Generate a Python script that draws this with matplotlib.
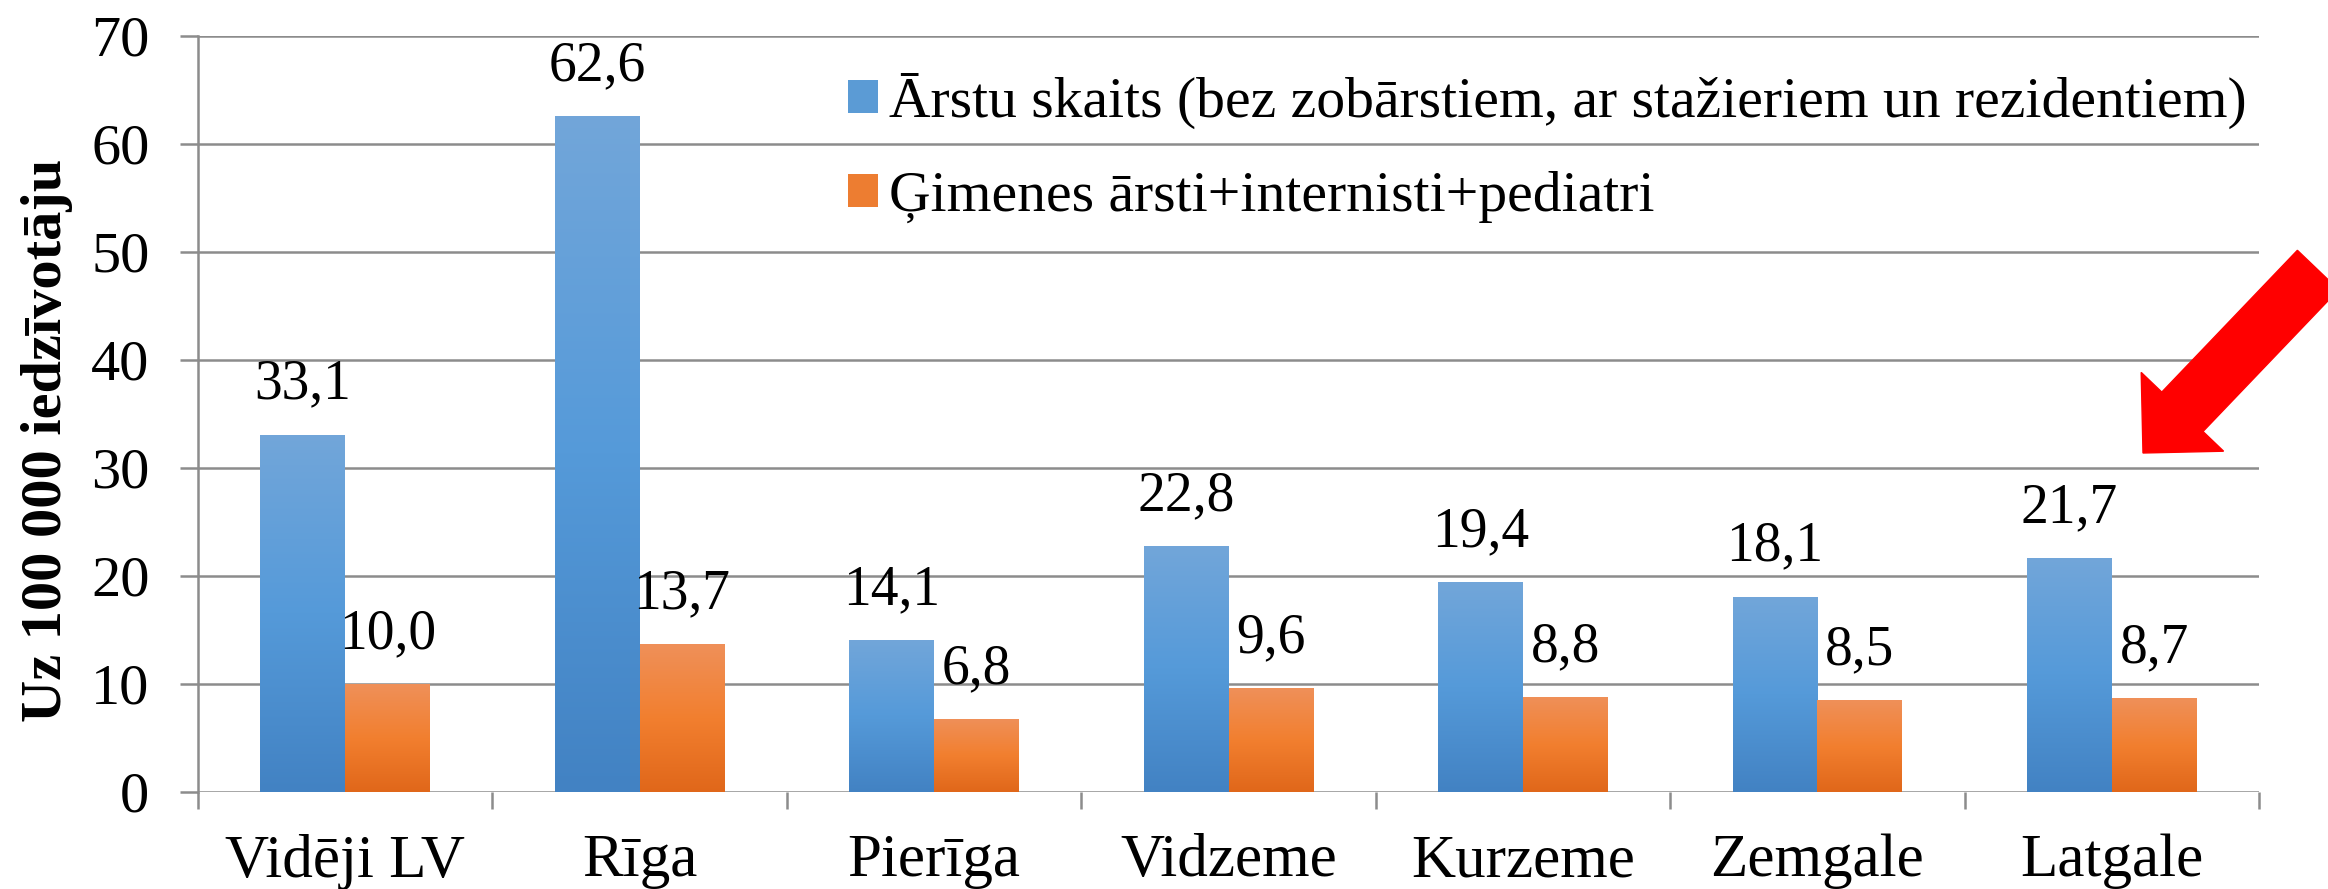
import numpy as np
import matplotlib
matplotlib.use('Agg')
import matplotlib.pyplot as plt
from matplotlib.colors import LinearSegmentedColormap
from matplotlib.patches import FancyArrow, Patch

regions = ['Vidēji LV', 'Rīga', 'Pierīga', 'Vidzeme', 'Kurzeme', 'Zemgale', 'Latgale']
doctors = [33.1, 62.6, 14.1, 22.8, 19.4, 18.1, 21.7]
family = [10.0, 13.7, 6.8, 9.6, 8.8, 8.5, 8.7]
series_names = ['Ārstu skaits (bez zobārstiem, ar stažieriem un rezidentiem)',
                'Ģimenes ārsti+internisti+pediatri']

plt.rcParams['font.family'] = ['Liberation Serif', 'DejaVu Serif']

fig = plt.figure(figsize=(23.28, 8.89), dpi=100)
ax = fig.add_axes([198 / 2328, 97 / 889, 2061 / 2328, 756 / 889])

blue_cm = LinearSegmentedColormap.from_list('b', ['#4282c3', '#559ad9', '#72a6da'])
orange_cm = LinearSegmentedColormap.from_list('o', ['#e0671a', '#f27f2f', '#ef9059'])
grad = np.linspace(0, 1, 256).reshape(-1, 1)

x = np.arange(len(regions))
w = 0.288
grey = '#8c8c8c'

def grad_bars(xs, vals, cmap):
    bars = ax.bar(xs, vals, width=w, color='none', edgecolor='none', zorder=3)
    for b in bars:
        x0, y0 = b.get_x(), b.get_y()
        im = ax.imshow(grad, cmap=cmap, origin='lower', aspect='auto',
                       extent=[x0, x0 + b.get_width(), y0, y0 + b.get_height()], zorder=3)
        im.set_clip_path(b)
    return bars

grad_bars(x - w / 2, doctors, blue_cm)
grad_bars(x + w / 2, family, orange_cm)

for i in range(len(regions)):
    ax.text(x[i] - w / 2, doctors[i] + 2.2, f'{doctors[i]:.1f}'.replace('.', ','),
            ha='center', va='bottom', fontsize=40)
    ax.text(x[i] + w / 2, family[i] + 2.2, f'{family[i]:.1f}'.replace('.', ','),
            ha='center', va='bottom', fontsize=40)

ax.set_xlim(-0.5, len(regions) - 0.5)
ax.set_ylim(0, 70)
ax.set_yticks(range(0, 71, 10))
ax.set_xticks(x)
ax.set_xticklabels(regions, fontsize=44)
ax.set_xticks(np.arange(-0.5, len(regions), 1), minor=True)
ax.tick_params(axis='x', which='major', length=0, pad=30)
ax.tick_params(axis='x', which='minor', length=12, width=1.8, color=grey, direction='out')
ax.tick_params(axis='y', labelsize=42, length=13, width=1.8, color=grey, pad=22)
ax.grid(axis='y', color=grey, linewidth=1.8, zorder=0)
ax.set_axisbelow(True)
for s in ['top', 'right', 'bottom']:
    ax.spines[s].set_visible(False)
ax.spines['left'].set_color(grey)
ax.spines['left'].set_linewidth(1.8)
ax.set_ylabel('Uz 100 000 iedzīvotāju', fontsize=42, fontweight='bold')
ax.yaxis.set_label_coords(-0.0606, 0.465)

handles = [Patch(facecolor='#5b9bd5'), Patch(facecolor='#ed7d31')]
ax.legend(handles, series_names, loc='upper left', bbox_to_anchor=(819 / 2328, 1 - 44 / 889),
          bbox_transform=fig.transFigure, frameon=False, fontsize=41.5, borderpad=0,
          handlelength=0.52, handleheight=0.52, handletextpad=0.2, labelspacing=0.73)

# red arrow (pixel coordinates of the figure)
arrow = FancyArrow(23.18, 6.19, -1.75, -1.83, width=0.57, head_width=1.14, head_length=0.57,
                   length_includes_head=True, color='#ff0000', transform=fig.dpi_scale_trans,
                   clip_on=False)
fig.patches.append(arrow)

fig.savefig('out.png', dpi=100)
